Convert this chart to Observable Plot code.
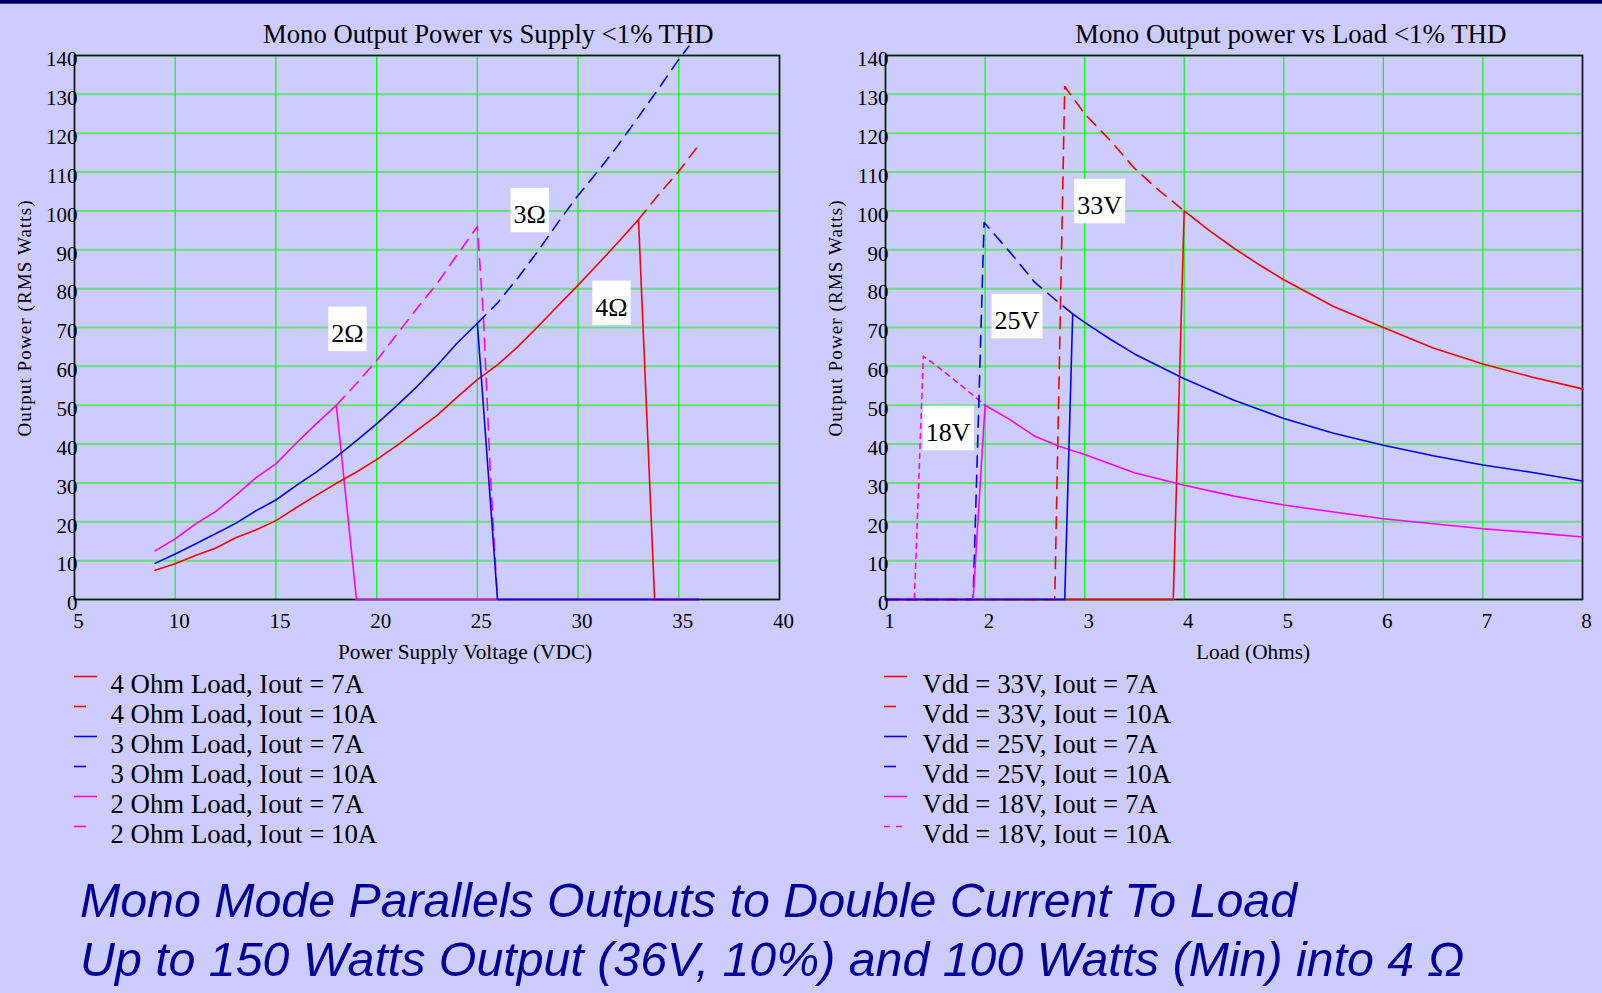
<!DOCTYPE html>
<html><head><meta charset="utf-8">
<script src="https://cdn.jsdelivr.net/npm/d3@7"></script>
<script src="https://cdn.jsdelivr.net/npm/@observablehq/plot@0.6"></script>
<style>
html,body{margin:0;padding:0;}
body{width:1602px;height:993px;background:#ccccff;position:relative;overflow:hidden;}
#topbar{position:absolute;left:0;top:0;width:1602px;height:3px;background:#00005e;border-bottom:1px solid #3434a6;}
.plotbox{position:absolute;top:0;}
#overlay{position:absolute;left:0;top:0;pointer-events:none;}
</style>
</head><body>
<div id="topbar"></div>
<div id="left" class="plotbox" style="left:0"></div>
<div id="right" class="plotbox" style="left:800px"></div>
<svg id="overlay" width="1602" height="993"></svg>
<script>
// ---------- data ----------
const xTicksSupply = [5, 10, 15, 20, 25, 30, 35, 40];
const xTicksLoad = [1, 2, 3, 4, 5, 6, 7, 8];
const yTicks = [0, 10, 20, 30, 40, 50, 60, 70, 80, 90, 100, 110, 120, 130, 140];

// Left chart: [supply voltage (V), output power (W)]
const ohm4_7A = [[9,7.5],[10,9.2],[11,11.3],[12,13.2],[13,15.9],[14,17.9],[15,20.3],[16,23.6],[17,26.8],[18,29.9],[19,32.8],[20,36],[21,39.6],[22,43.5],[23,47.4],[24,52.1],[25,56.6],[26,60.4],[27,65],[28,70.2],[29,75.6],[30,80.9],[31,86.4],[32,92],[33,97.8],[33.8,0],[36,0]];
const ohm4_10A = [[33,97.8],[34,104.2],[35,110.2],[36,117]];
const ohm3_7A = [[9,9.3],[10,11.7],[11,14.3],[12,16.9],[13,19.6],[14,22.8],[15,25.6],[16,29.3],[17,32.8],[18,36.7],[19,40.9],[20,45.2],[21,49.9],[22,54.8],[23,60.2],[24,66],[25,71.1],[26,0],[36,0]];
const ohm3_10A = [[25,71.1],[26,76.3],[27,82.7],[28,89.6],[29,97],[30,104],[31,110.3],[32,117],[33,124.2],[34,131.5],[35,139],[35.5,142.4]];
const ohm2_7A = [[9,12.5],[10,15.6],[11,19.4],[12,22.6],[13,26.8],[14,31.3],[15,34.9],[16,40.2],[17,45.2],[18,50],[19,0],[36,0]];
const ohm2_10A = [[18,50],[19,55.6],[20,61.5],[21,68.2],[22,74.9],[23,81.3],[24,88.7],[25,96],[25.3,73],[25.65,32],[26,0]];

// Right chart: [load (ohms), output power (W)]
const v33_7A = [[1,0],[3.89,0],[4,100],[4.25,95],[4.5,90.4],[4.75,86.2],[5,82.3],[5.5,75.4],[6,70],[6.5,64.7],[7,60.6],[7.5,57.2],[8,54.2]];
const v33_10A = [[1,0],[2.7,0],[2.8,132],[3,125],[3.25,118.3],[3.5,111],[3.75,105.2],[4,100]];
const v25_7A = [[1,0],[2.8,0],[2.88,73.5],[3,71.3],[3.25,67.1],[3.5,63.2],[4,56.8],[4.5,51.3],[5,46.6],[5.5,42.8],[6,39.7],[6.5,37],[7,34.6],[7.5,32.7],[8,30.5]];
const v25_10A = [[1,0],[1.88,0],[1.99,97],[2.25,89.4],[2.5,81.6],[2.75,76.2],[2.88,73.5]];
const v18_7A = [[1,0],[1.88,0],[2,50],[2.25,46.3],[2.5,42],[2.75,39.4],[3,37.3],[3.5,32.6],[4,29.4],[4.5,26.6],[5,24.3],[5.5,22.5],[6,20.8],[6.5,19.5],[7,18.2],[7.5,17.2],[8,16.1]];
const v18_10A = [[1,0],[1.29,0],[1.38,62.6],[1.5,60.4],[1.75,55.3],[2,50]];

// Annotation labels
const annotLeftText = ["2Ω", "3Ω", "4Ω"];
const annotLeftX = [18.55, 27.6, 31.66];
const annotLeftY = [68.5, 99.1, 75.2];
const annotRightText = ["33V", "25V", "18V"];
const annotRightX = [3.15, 2.32, 1.63];
const annotRightY = [101.4, 71.8, 43.0];

// Texts
const titleLeft = "Mono Output Power vs Supply <1% THD";
const titleRight = "Mono Output power vs Load <1% THD";
const xLabelLeft = "Power Supply Voltage (VDC)";
const xLabelRight = "Load (Ohms)";
const yLabel = "Output Power (RMS Watts)";
const legendLeft = ["4 Ohm Load, Iout = 7A","4 Ohm Load, Iout = 10A","3 Ohm Load, Iout = 7A","3 Ohm Load, Iout = 10A","2 Ohm Load, Iout = 7A","2 Ohm Load, Iout = 10A"];
const legendRight = ["Vdd = 33V, Iout = 7A","Vdd = 33V, Iout = 10A","Vdd = 25V, Iout = 7A","Vdd = 25V, Iout = 10A","Vdd = 18V, Iout = 7A","Vdd = 18V, Iout = 10A"];
const footerLines = ["Mono Mode Parallels Outputs to Double Current To Load", "Up to 150 Watts Output (36V, 10%) and 100 Watts (Min) into 4 Ω"];

// ---------- styling ----------
const RED = "#ff0000", BLUE = "#0000ff", MAG = "#ff00ff";
const GRID_V = "#00ff00", GRID_H = "#66e07c";
const SERIF = "'Liberation Serif','Times New Roman',serif";
const LONG = "12,8", SHORT = "5,5";

const leftSeries = [
  {pts: ohm2_10A, color: MAG, dash: LONG},
  {pts: ohm3_10A, color: BLUE, dash: LONG},
  {pts: ohm4_10A, color: RED, dash: LONG},
  {pts: ohm2_7A, color: MAG, dash: null},
  {pts: ohm4_7A, color: RED, dash: null},
  {pts: ohm3_7A, color: BLUE, dash: null}
];
const rightSeries = [
  {pts: v18_10A, color: MAG, dash: SHORT},
  {pts: v25_10A, color: BLUE, dash: LONG},
  {pts: v33_10A, color: RED, dash: LONG},
  {pts: v33_7A, color: RED, dash: null},
  {pts: v18_7A, color: MAG, dash: null},
  {pts: v25_7A, color: BLUE, dash: null}
];
const legendStylesLeft = [[RED,null],[RED,"12,12"],[BLUE,null],[BLUE,"12,12"],[MAG,null],[MAG,"12,12"]];
const legendStylesRight = [[RED,null],[RED,"12,12"],[BLUE,null],[BLUE,"12,12"],[MAG,null],[MAG,"6,6"]];

function chart({xDomain, xTicks, series, aText, aX, aY, width, ml, mr}) {
  const marks = [
    Plot.ruleY(yTicks, {y: d => d, stroke: GRID_H, strokeWidth: 2}),
    Plot.ruleX(xTicks, {x: d => d, stroke: GRID_V, strokeWidth: 1.2}),
    Plot.frame({stroke: "#151515", strokeWidth: 1.7})
  ];
  for (const s of series) {
    const opts = {x: d => d[0], y: d => d[1], stroke: s.color, strokeWidth: 1.6};
    if (s.dash) opts.strokeDasharray = s.dash;
    marks.push(Plot.line(s.pts, opts));
  }
  marks.push(Plot.text(aText.map((t, i) => ({t, x: aX[i], y: aY[i]})),
    {x: "x", y: "y", text: "t", fontSize: 26, fill: "black"}));
  marks.push(Plot.axisX({ticks: xTicks, tickFormat: d => String(d), tickSize: 0, tickPadding: 14, dx: 4, label: null, fontSize: 21}));
  marks.push(Plot.axisY({ticks: yTicks, tickFormat: d => String(d), tickSize: 0, tickPadding: -3, dy: 4, label: null, fontSize: 21}));
  return Plot.plot({
    width, height: 680,
    marginLeft: ml, marginRight: mr, marginTop: 55, marginBottom: 81,
    x: {domain: xDomain},
    y: {domain: [0, 140]},
    style: {background: "transparent", fontFamily: SERIF, fontSize: "21px", color: "black", overflow: "visible"},
    marks
  });
}

function addBoxes(svg) {
  svg.querySelectorAll('g[aria-label="text"] text').forEach(t => {
    const b = t.getBBox();
    const r = document.createElementNS("http://www.w3.org/2000/svg", "rect");
    r.setAttribute("x", b.x - 3);
    r.setAttribute("y", b.y - 12);
    r.setAttribute("width", b.width + 6);
    r.setAttribute("height", b.height + 15.5);
    r.setAttribute("fill", "white");
    r.setAttribute("stroke", "none");
    if (t.getAttribute("transform")) r.setAttribute("transform", t.getAttribute("transform"));
    t.parentNode.insertBefore(r, t);
  });
}

const leftSvg = chart({xDomain: [5, 40], xTicks: xTicksSupply, series: leftSeries,
  aText: annotLeftText, aX: annotLeftX, aY: annotLeftY, width: 800, ml: 74, mr: 21});
document.getElementById("left").appendChild(leftSvg);
addBoxes(leftSvg);

const rightSvg = chart({xDomain: [1, 8], xTicks: xTicksLoad, series: rightSeries,
  aText: annotRightText, aX: annotRightX, aY: annotRightY, width: 802, ml: 85, mr: 20});
document.getElementById("right").appendChild(rightSvg);
addBoxes(rightSvg);

// ---------- overlay texts ----------
const ov = d3.select("#overlay");
ov.append("text").attr("x", 263).attr("y", 43).attr("font-family", SERIF).attr("font-size", 26.7).text(titleLeft);
ov.append("text").attr("x", 1075).attr("y", 43).attr("font-family", SERIF).attr("font-size", 26.9).text(titleRight);
ov.append("text").attr("x", 338).attr("y", 659).attr("font-family", SERIF).attr("font-size", 21.3).text(xLabelLeft);
ov.append("text").attr("x", 1196).attr("y", 659).attr("font-family", SERIF).attr("font-size", 21.3).text(xLabelRight);
for (const cx of [31, 842]) {
  ov.append("text").attr("transform", `translate(${cx},318) rotate(-90)`).attr("text-anchor", "middle")
    .attr("font-family", SERIF).attr("font-size", 19).attr("letter-spacing", 1.1).text(yLabel);
}
function legend(items, styles, lineX, textX) {
  items.forEach((label, i) => {
    const base = 693 + i * 30;
    const [c, dash] = styles[i];
    const ln = ov.append("line").attr("x1", lineX).attr("x2", lineX + 23)
      .attr("y1", base - 16.5).attr("y2", base - 16.5).attr("stroke", c).attr("stroke-width", 1.6);
    if (dash) ln.attr("stroke-dasharray", dash);
    ov.append("text").attr("x", textX).attr("y", base).attr("font-family", SERIF).attr("font-size", 26.8).text(label);
  });
}
legend(legendLeft, legendStylesLeft, 74, 110.5);
legend(legendRight, legendStylesRight, 884, 922.5);
footerLines.forEach((line, i) => {
  ov.append("text").attr("x", 80).attr("y", [917, 976][i])
    .attr("font-family", "'Liberation Sans',Arial,sans-serif").attr("font-style", "italic")
    .attr("font-size", 48.3).attr("fill", "#000099").text(line);
});
</script>
</body></html>
